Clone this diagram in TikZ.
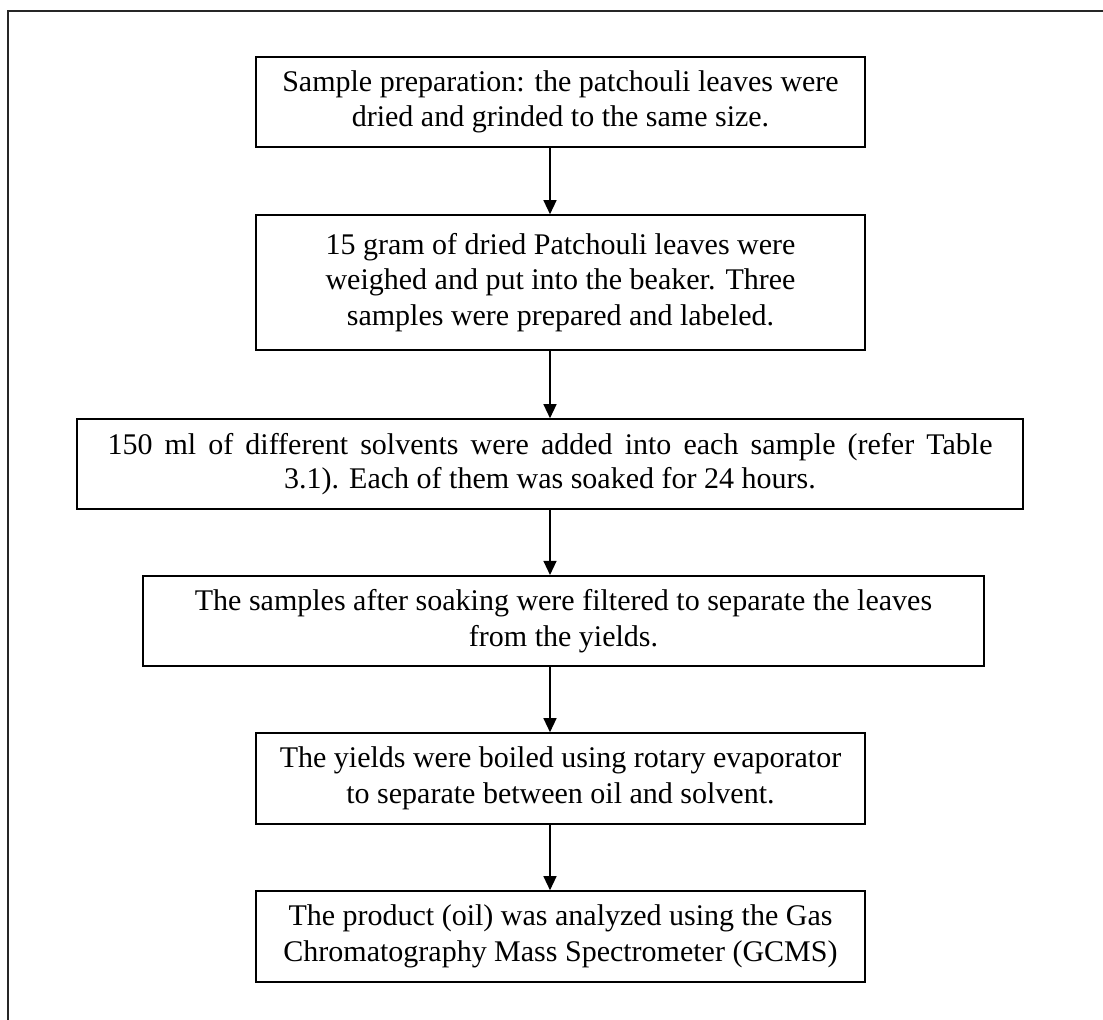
\documentclass[tikz,border=0pt]{standalone}
\usepackage{fontspec}
\setmainfont{Liberation Serif}
\usetikzlibrary{arrows.meta}
\begin{document}
\begin{tikzpicture}[x=1pt,y=-1pt,
  stepbox/.style={draw=black, line width=1.6pt, rectangle, inner sep=0pt, align=center,
    font=\fontsize{30}{35.5}\selectfont},
  flow/.style={line width=1.3pt, -{Triangle[length=14pt,width=13pt]}},
  frame/.style={line width=1.6pt, draw=black!85}]
\useasboundingbox (0,0) rectangle (1103,1020);
\fill[white] (0,0) rectangle (1103,1020);
% outer frame (only top and left sides visible)
\coordinate (fbl) at (8,1020);
\coordinate (ftl) at (8,11);
\coordinate (ftr) at (1103,11);
\draw[frame] (fbl) -- (ftl) -- (ftr);
% arrow axis
\coordinate (ax) at (550,0);
% boxes
\node[stepbox, minimum width=609pt, minimum height=90pt] (b1) at (560.5,102)
  {Sample preparation: the patchouli leaves were\\dried and grinded to the same size.};
\node[stepbox, minimum width=609pt, minimum height=135pt] (b2) at (560.5,282.5)
  {15 gram of dried Patchouli leaves were\\weighed and put into the beaker. Three\\samples were prepared and labeled.};
\node[stepbox, minimum width=946pt, minimum height=90pt,
      font=\fontsize{30}{34.4}\selectfont] (b3) at (550,464)
  {\makebox[885pt][s]{150 ml of different solvents were added into each sample (refer Table}\\3.1). Each of them was soaked for 24 hours.};
\node[stepbox, minimum width=841pt, minimum height=90.5pt] (b4) at (563.5,621)
  {The samples after soaking were filtered to separate the leaves\\from the yields.};
\node[stepbox, minimum width=609pt, minimum height=91pt] (b5) at (560.5,778.5)
  {The yields were boiled using rotary evaporator\\to separate between oil and solvent.};
\node[stepbox, minimum width=609pt, minimum height=91pt] (b6) at (560.5,936.5)
  {The product (oil) was analyzed using the Gas\\Chromatography Mass Spectrometer (GCMS)};
% connectors
\draw[flow] (b1.south -| ax) -- (b2.north -| ax);
\draw[flow] (b2.south -| ax) -- (b3.north -| ax);
\draw[flow] (b3.south -| ax) -- (b4.north -| ax);
\draw[flow] (b4.south -| ax) -- (b5.north -| ax);
\draw[flow] (b5.south -| ax) -- (b6.north -| ax);
\end{tikzpicture}
\end{document}
